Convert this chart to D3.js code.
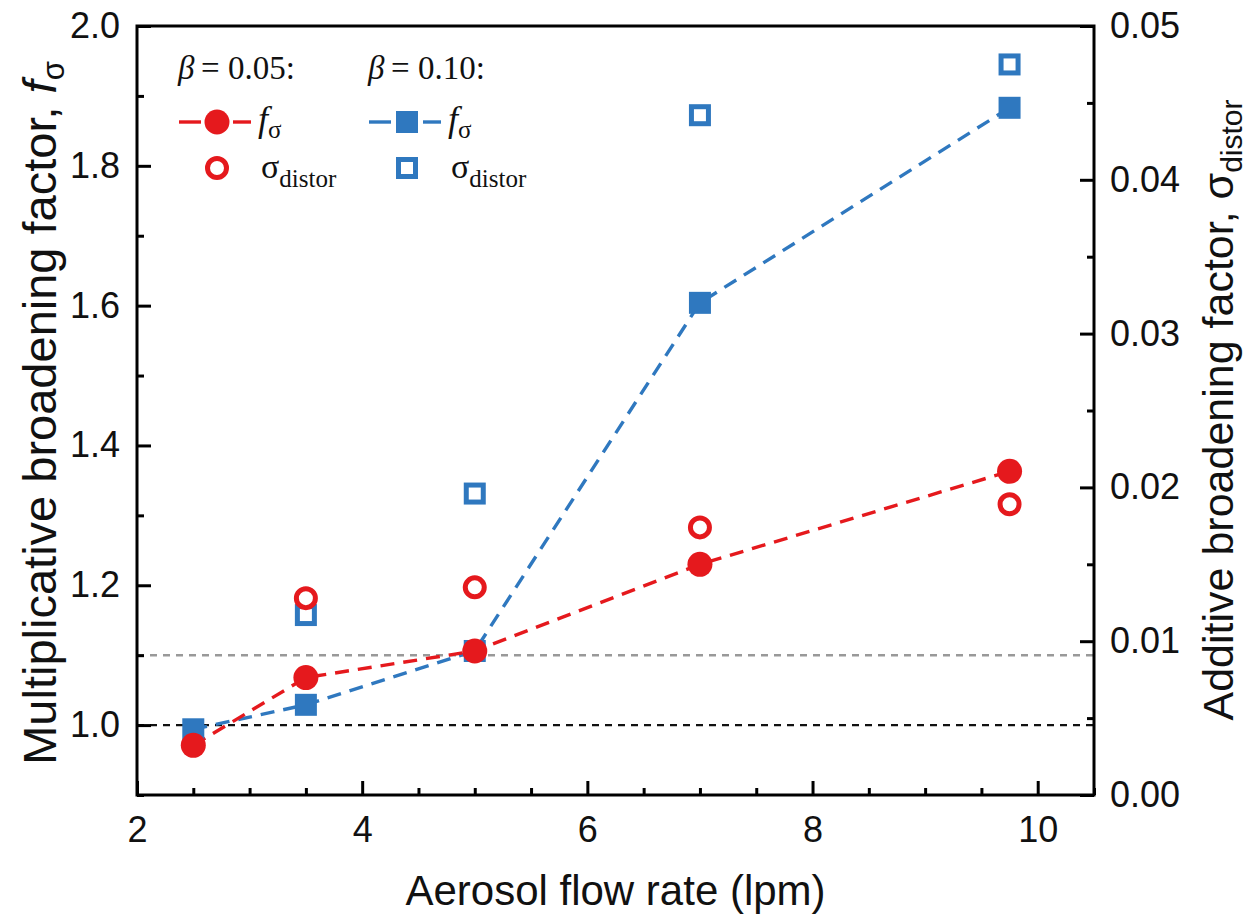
<!DOCTYPE html>
<html><head><meta charset="utf-8">
<script src="https://cdn.jsdelivr.net/npm/d3@7"></script>
<style>body{margin:0;background:#fff}svg{display:block}</style>
</head><body>
<svg id="c" width="1258" height="921"></svg>
<script>
const flowRates = [2.5, 3.5, 5, 7, 9.75];
const fSigma005 = [0.971, 1.068, 1.106, 1.230, 1.363];
const fSigma010 = [0.994, 1.029, 1.106, 1.604, 1.883];
const flowRatesDistor = [3.5, 5, 7, 9.75];
const sigmaDistor005 = [0.0128, 0.0135, 0.0174, 0.0189];
const sigmaDistor010 = [0.0117, 0.0196, 0.0442, 0.0475];
const xTicks = [2, 4, 6, 8, 10];
const yLeftTicks = [1.0, 1.2, 1.4, 1.6, 1.8, 2.0];
const yRightTicks = [0.00, 0.01, 0.02, 0.03, 0.04, 0.05];
const refLines = [1.0, 1.1];

const RED = "#e5191d", BLUE = "#2f78bf";
const svg = d3.select("#c");
const L = 137, R = 1094, T = 26, B = 795;
const x = d3.scaleLinear().domain([2, 10.5]).range([L, R]);
const yL = d3.scaleLinear().domain([0.9, 2.0]).range([B, T]);
const yR = d3.scaleLinear().domain([0, 0.05]).range([B, T]);
const sans = "Liberation Sans, Arial, sans-serif";
const serif = "Liberation Serif, Times New Roman, serif";

// reference lines
svg.selectAll("line.ref").data(refLines).join("line")
  .attr("x1", L).attr("x2", R).attr("y1", d => yL(d)).attr("y2", d => yL(d))
  .attr("stroke", (d, i) => i === 0 ? "#111" : "#999").attr("stroke-width", 2.4)
  .attr("stroke-dasharray", "7,6");

// data lines
const line = d3.line().x(d => x(d[0])).y(d => yL(d[1]));
svg.append("path").datum(d3.zip(flowRates, fSigma010)).attr("d", line)
  .attr("fill", "none").attr("stroke", BLUE).attr("stroke-width", 3.4).attr("stroke-dasharray", "14,9");
svg.append("path").datum(d3.zip(flowRates, fSigma005)).attr("d", line)
  .attr("fill", "none").attr("stroke", RED).attr("stroke-width", 3.4).attr("stroke-dasharray", "14,9");

// open markers (right axis)
svg.selectAll("rect.od").data(d3.zip(flowRatesDistor, sigmaDistor010)).join("rect")
  .attr("x", d => x(d[0]) - 8.5).attr("y", d => yR(d[1]) - 8.5).attr("width", 17).attr("height", 17)
  .attr("fill", "#fff").attr("stroke", BLUE).attr("stroke-width", 5);
svg.selectAll("circle.od").data(d3.zip(flowRatesDistor, sigmaDistor005)).join("circle")
  .attr("cx", d => x(d[0])).attr("cy", d => yR(d[1])).attr("r", 9.5)
  .attr("fill", "#fff").attr("stroke", RED).attr("stroke-width", 5);

// filled markers
svg.selectAll("rect.f").data(d3.zip(flowRates, fSigma010)).join("rect")
  .attr("x", d => x(d[0]) - 11).attr("y", d => yL(d[1]) - 11).attr("width", 22).attr("height", 22)
  .attr("fill", BLUE);
svg.selectAll("circle.f").data(d3.zip(flowRates, fSigma005)).join("circle")
  .attr("cx", d => x(d[0])).attr("cy", d => yL(d[1])).attr("r", 12.5).attr("fill", RED);

// frame
svg.append("rect").attr("x", L).attr("y", T).attr("width", R - L).attr("height", B - T)
  .attr("fill", "none").attr("stroke", "#000").attr("stroke-width", 3);

function styleAxis(g) {
  g.select(".domain").remove();
  g.selectAll(".tick line").attr("stroke", "#000").attr("stroke-width", 3);
  g.selectAll(".tick text").attr("font-family", sans).attr("font-size", 36).attr("fill", "#111");
}
// x axis
const gx = svg.append("g").attr("transform", `translate(0,${B})`);
gx.call(d3.axisBottom(x).tickValues(d3.range(2.5, 10.51, 0.5).filter(v => v % 2 !== 0)).tickSize(-7).tickFormat(""));
gx.append("g").call(d3.axisBottom(x).tickValues(xTicks).tickSize(-14).tickPadding(21).tickFormat(d3.format("d")));
styleAxis(gx); gx.selectAll("g").call(styleAxis);
gx.selectAll(".tick text").attr("dy", "0.71em");

// left axis
const gl = svg.append("g").attr("transform", `translate(${L},0)`);
gl.call(d3.axisLeft(yL).tickValues([0.9, 1.1, 1.3, 1.5, 1.7, 1.9]).tickSize(-7).tickFormat(""));
gl.append("g").call(d3.axisLeft(yL).tickValues(yLeftTicks).tickSize(-14).tickPadding(17).tickFormat(d3.format(".1f")));
styleAxis(gl); gl.selectAll("g").call(styleAxis);

// right axis
const gr = svg.append("g").attr("transform", `translate(${R},0)`);
gr.call(d3.axisRight(yR).tickValues([0.005, 0.015, 0.025, 0.035, 0.045]).tickSize(-7).tickFormat(""));
gr.append("g").call(d3.axisRight(yR).tickValues(yRightTicks).tickSize(-14).tickPadding(16).tickFormat(d3.format(".2f")));
styleAxis(gr); gr.selectAll("g").call(styleAxis);

// axis titles
svg.append("text").attr("x", (L + R) / 2).attr("y", 905).attr("text-anchor", "middle")
  .attr("font-family", sans).attr("font-size", 42).attr("fill", "#111").text("Aerosol flow rate (lpm)");

const lt = svg.append("text").attr("transform", `translate(56,413) rotate(-90)`)
  .attr("text-anchor", "middle").attr("font-family", sans).attr("font-size", 47).attr("fill", "#111");
lt.append("tspan").text("Multiplicative broadening factor, ");
lt.append("tspan").attr("font-style", "italic").text("f");
lt.append("tspan").attr("font-size", 31).attr("dy", 8).text("σ");

const rt = svg.append("text").attr("transform", `translate(1233,410) rotate(-90)`)
  .attr("text-anchor", "middle").attr("font-family", sans).attr("font-size", 43).attr("fill", "#111");
rt.append("tspan").text("Additive broadening factor, σ");
rt.append("tspan").attr("font-size", 30).attr("dy", 9).text("distor");

// legend
const legendGroups = [
  {beta: "0.05", color: RED, x0: 179, shape: "circle"},
  {beta: "0.10", color: BLUE, x0: 369, shape: "square"}
];
legendGroups.forEach(g => {
  const lg = svg.append("g");
  const h = lg.append("text").attr("x", g.x0 - 1).attr("y", 79).attr("font-family", serif).attr("font-size", 33).attr("fill", "#111");
  h.append("tspan").attr("font-style", "italic").text("β");
  h.append("tspan").text("\u2009= " + g.beta + ":");
  const cx = g.x0 + 38;
  [[g.x0, cx - 16], [cx + 16, g.x0 + 72]].forEach(s => {
    lg.append("line").attr("x1", s[0]).attr("x2", s[1]).attr("y1", 122).attr("y2", 122)
      .attr("stroke", g.color).attr("stroke-width", 3.4);
  });
  if (g.shape === "circle") {
    lg.append("circle").attr("cx", cx).attr("cy", 122).attr("r", 12.5).attr("fill", g.color);
    lg.append("circle").attr("cx", cx).attr("cy", 168).attr("r", 9.5).attr("fill", "#fff").attr("stroke", g.color).attr("stroke-width", 5);
  } else {
    lg.append("rect").attr("x", cx - 11).attr("y", 111).attr("width", 22).attr("height", 22).attr("fill", g.color);
    lg.append("rect").attr("x", cx - 8.5).attr("y", 159.5).attr("width", 17).attr("height", 17).attr("fill", "#fff").attr("stroke", g.color).attr("stroke-width", 5);
  }
  const t1 = lg.append("text").attr("x", g.x0 + 79).attr("y", 131).attr("font-family", serif).attr("font-size", 36).attr("fill", "#111");
  t1.append("tspan").attr("font-style", "italic").text("f");
  t1.append("tspan").attr("font-size", 25).attr("dy", 7).text("σ");
  const t2 = lg.append("text").attr("x", g.x0 + 82).attr("y", 178).attr("font-family", serif).attr("font-size", 34).attr("fill", "#111");
  t2.append("tspan").text("σ");
  t2.append("tspan").attr("font-size", 25).attr("dy", 9).text("distor");
});
</script>
</body></html>
